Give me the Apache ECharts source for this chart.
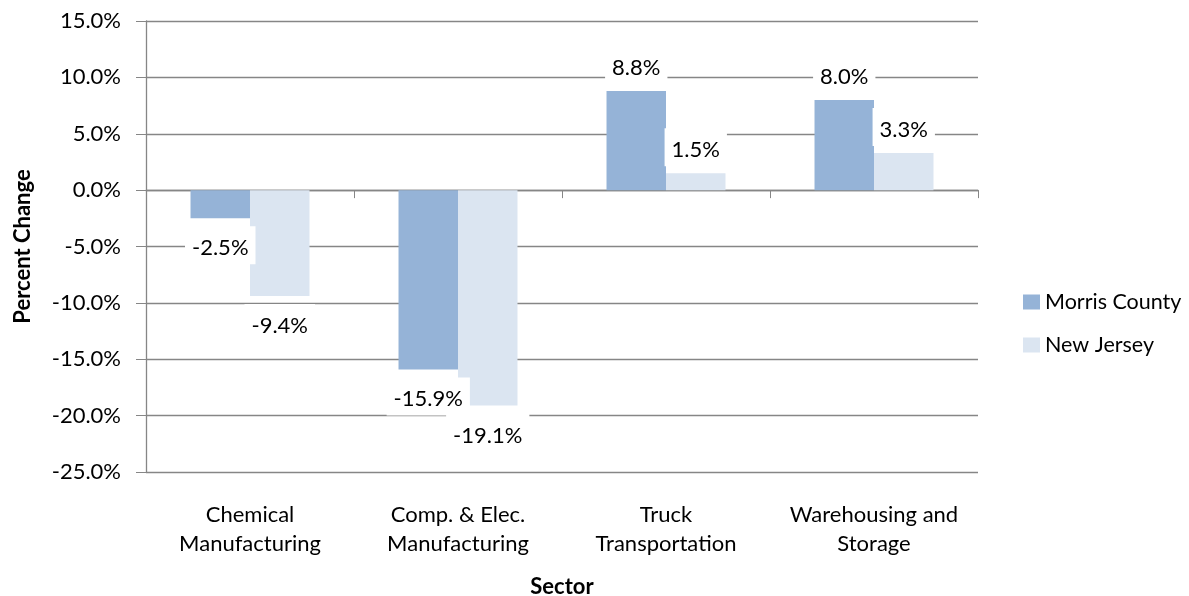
<!DOCTYPE html>
<html>
<head>
<meta charset="utf-8">
<script src="https://cdn.jsdelivr.net/npm/echarts@6/dist/echarts.min.js"></script>
<style>
  html, body { margin: 0; padding: 0; background: #fff; }
  #chart { width: 1189px; height: 596px; }
</style>
</head>
<body>
<div id="chart"></div>
<script>
// Employment change by sector, Morris County vs. New Jersey
const sectors = ['Chemical\nManufacturing', 'Comp. & Elec.\nManufacturing', 'Truck\nTransportation', 'Warehousing and\nStorage'];
const morrisCounty = [-2.5, -15.9, 8.8, 8.0];
const newJersey = [-9.4, -19.1, 1.5, 3.3];
const seriesNames = ['Morris County', 'New Jersey'];

const FONT = 'Lato, "Open Sans", sans-serif';
const FONT_SIZE = 22;
const GRID_COLOR = '#868686';

function valueLabel(v) {
  return {
    show: true,
    position: v < 0 ? 'bottom' : 'top',
    distance: v < 0 ? 8 : 7,
    color: '#000',
    fontFamily: FONT,
    fontSize: FONT_SIZE,
    lineHeight: 22,
    backgroundColor: '#fff',
    padding: [11, 7, 5, 7],
    formatter: p => p.value.toFixed(1) + '%'
  };
}

function barSeries(name, values, color) {
  return {
    name: name,
    type: 'bar',
    xAxisIndex: 0,
    barGap: '0%',
    barCategoryGap: '42.8%',
    itemStyle: { color: color },
    data: values.map(v => ({ value: v, label: valueLabel(v) }))
  };
}

const chart = echarts.init(document.getElementById('chart'));
chart.setOption({
  animation: false,
  backgroundColor: '#fff',
  textStyle: { fontFamily: FONT },
  grid: { left: 146, right: 211, top: 21, bottom: 124, containLabel: false, outerBoundsMode: 'none' },
  legend: {
    orient: 'vertical',
    left: 1018,
    top: 286,
    itemGap: 21,
    itemWidth: 17,
    itemHeight: 15,
    icon: 'rect',
    textStyle: { fontFamily: FONT, fontSize: 21.5, lineHeight: 22, color: '#000' },
    data: seriesNames
  },
  xAxis: [
    {
      // category names along the bottom edge
      type: 'category',
      data: sectors,
      position: 'bottom',
      axisLine: { show: false, onZero: false },
      axisTick: { show: false },
      axisLabel: { color: '#000', fontFamily: FONT, fontSize: FONT_SIZE, lineHeight: 29, margin: 28, interval: 0 },
      name: 'Sector',
      nameLocation: 'middle',
      nameGap: 104,
      nameTextStyle: { fontWeight: 'bold', fontSize: FONT_SIZE, color: '#000', fontFamily: FONT }
    },
    {
      // baseline at zero with category boundary ticks
      type: 'category',
      data: sectors,
      position: 'bottom',
      axisLine: { show: true, onZero: true, lineStyle: { color: GRID_COLOR, width: 1.3 } },
      axisTick: { show: true, length: 8, lineStyle: { color: GRID_COLOR } },
      axisLabel: { show: false }
    }
  ],
  yAxis: {
    type: 'value',
    min: -25,
    max: 15,
    interval: 5,
    axisLine: { show: true, lineStyle: { color: GRID_COLOR, width: 1.3 } },
    axisTick: { show: true, length: 10, lineStyle: { color: GRID_COLOR } },
    splitLine: { show: true, lineStyle: { color: GRID_COLOR, width: 1.3 } },
    axisLabel: {
      color: '#000', fontFamily: FONT, fontSize: FONT_SIZE, margin: 25,
      formatter: v => v.toFixed(1) + '%'
    },
    name: 'Percent Change',
    nameLocation: 'middle',
    nameGap: 112,
    nameRotate: 90,
    nameTextStyle: { fontWeight: 'bold', fontSize: FONT_SIZE, color: '#000', fontFamily: FONT }
  },
  series: [
    barSeries(seriesNames[0], morrisCounty, '#95B3D7'),
    barSeries(seriesNames[1], newJersey, '#DBE5F1')
  ]
});
</script>
</body>
</html>
